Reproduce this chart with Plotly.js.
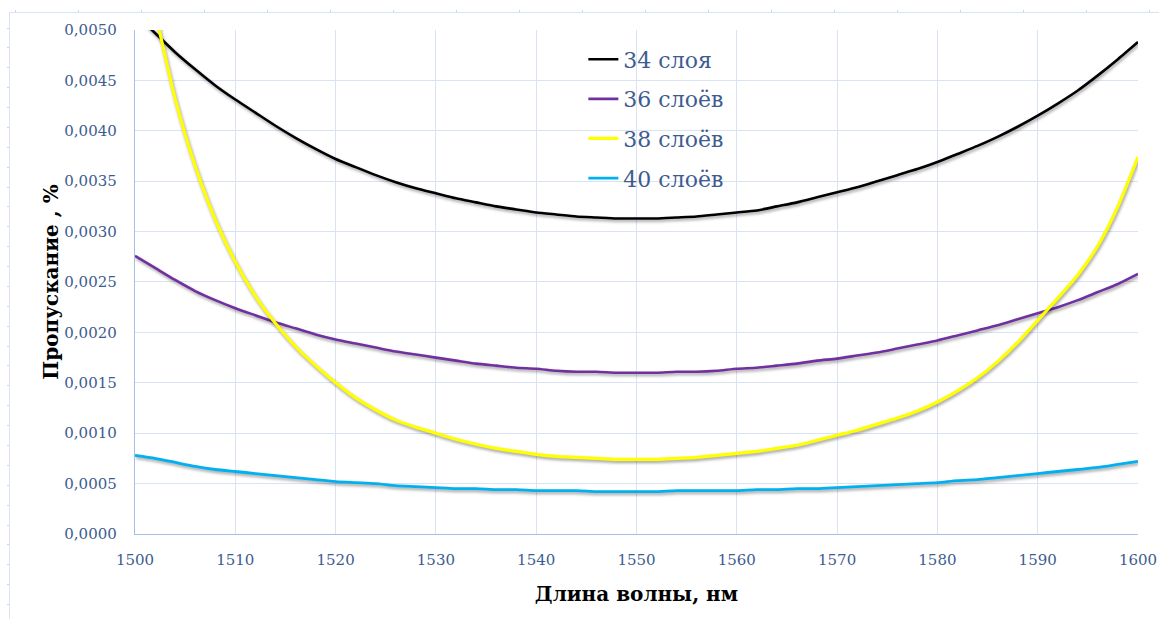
<!DOCTYPE html>
<html>
<head>
<meta charset="utf-8">
<script src="https://cdn.plot.ly/plotly-3.0.1.min.js"></script>
<style>
  html, body { margin: 0; padding: 0; background: #ffffff; }
  #chart { width: 1159px; height: 619px; }
</style>
</head>
<body>
<div id="chart"></div>
<script>
// Wavelength grid, nm
const wavelength = [
  1500,1502,1504,1506,1508,1510,1512,1514,1516,1518,
  1520,1522,1524,1526,1528,1530,1532,1534,1536,1538,
  1540,1542,1544,1546,1548,1550,1552,1554,1556,1558,
  1560,1562,1564,1566,1568,1570,1572,1574,1576,1578,
  1580,1582,1584,1586,1588,1590,1592,1594,1596,1598,1600
];

// Transmission, % — 34 layers
const layers34 = [
  0.00516,0.00497,0.00478,0.00461,0.00445,0.00431,0.00418,0.00405,0.00393,0.00382,
  0.00372,0.00364,0.00356,0.00349,0.00343,0.00338,0.00333,0.00329,0.00325,0.00322,
  0.00319,0.00317,0.00315,0.00314,0.00313,0.00313,0.00313,0.00314,0.00315,0.00317,
  0.00319,0.00321,0.00325,0.00329,0.00334,0.00339,0.00344,0.00350,0.00356,0.00362,
  0.00369,0.00377,0.00385,0.00394,0.00404,0.00415,0.00427,0.00440,0.00455,0.00471,0.00488
];

// Transmission, % — 36 layers
const layers36 = [
  0.00276,0.00264,0.00252,0.00241,0.00232,0.00224,0.00217,0.00210,0.00204,0.00198,
  0.00193,0.00189,0.00185,0.00181,0.00178,0.00175,0.00172,0.00169,0.00167,0.00165,
  0.00164,0.00162,0.00161,0.00161,0.00160,0.00160,0.00160,0.00161,0.00161,0.00162,
  0.00164,0.00165,0.00167,0.00169,0.00172,0.00174,0.00177,0.00180,0.00184,0.00188,
  0.00192,0.00197,0.00202,0.00207,0.00213,0.00219,0.00225,0.00232,0.00240,0.00248,0.00258
];

// Transmission, % — 38 layers
const layers38 = [
  0.00600,0.00518,0.00432,0.00365,0.00312,0.00270,0.00236,0.00209,0.00186,0.00167,
  0.00150,0.00135,0.00123,0.00113,0.00106,0.00100,0.00094,0.00089,0.00085,0.00082,
  0.00079,0.00077,0.00076,0.00075,0.00074,0.00074,0.00074,0.00075,0.00076,0.00078,
  0.00080,0.00082,0.00085,0.00088,0.00093,0.00098,0.00103,0.00109,0.00115,0.00122,
  0.00131,0.00142,0.00155,0.00171,0.00190,0.00212,0.00234,0.00257,0.00286,0.00325,0.00374
];

// Transmission, % — 40 layers
const layers40 = [
  0.00078,0.00075,0.00071,0.00067,0.00064,0.00062,0.00060,0.00058,0.00056,0.00054,
  0.00052,0.00051,0.00050,0.00048,0.00047,0.00046,0.00045,0.00045,0.00044,0.00044,
  0.00043,0.00043,0.00043,0.00042,0.00042,0.00042,0.00042,0.00043,0.00043,0.00043,
  0.00043,0.00044,0.00044,0.00045,0.00045,0.00046,0.00047,0.00048,0.00049,0.00050,
  0.00051,0.00053,0.00054,0.00056,0.00058,0.00060,0.00062,0.00064,0.00066,0.00069,0.00072
];

const seriesNames = ['34 слоя', '36 слоёв', '38 слоёв', '40 слоёв'];
const seriesData = [layers34, layers36, layers38, layers40];
const seriesColors = ['#000000', '#7030A0', '#FFFF00', '#00B0F0'];
const seriesWidths = [2.6, 2.6, 3.2, 2.8];

const SERIF = '"DejaVu Serif", "Liberation Serif", serif';
const LABEL_COLOR = '#3E5C8F';
const GRID = '#DAE3F3';

const traces = seriesData.map((ys, i) => ({
  type: 'scatter',
  mode: 'lines',
  x: wavelength,
  y: ys,
  name: seriesNames[i],
  legendgroup: 'g' + i,
  line: { color: seriesColors[i], width: seriesWidths[i], shape: 'spline', smoothing: 0.6 },
  hoverinfo: 'x+y+name'
}));

// empty trace that carries the outer frame axes
traces.push({
  type: 'scatter', mode: 'lines', x: [], y: [],
  xaxis: 'x2', yaxis: 'y2', showlegend: false, hoverinfo: 'skip'
});

const layout = {
  width: 1159,
  height: 619,
  margin: { l: 10, r: 0, t: 13, b: 0 },
  paper_bgcolor: '#ffffff',
  plot_bgcolor: 'rgba(0,0,0,0)',
  separators: ', ',
  font: { family: SERIF, color: LABEL_COLOR, size: 15 },
  showlegend: true,
  legend: {
    x: 0.499, y: 0.958, xanchor: 'left', yanchor: 'top',
    bgcolor: 'rgba(0,0,0,0)',
    font: { family: SERIF, size: 22, color: LABEL_COLOR },
    tracegroupgap: 8,
    itemwidth: 30
  },
  xaxis: {
    domain: [0.10879, 0.98172],
    range: [1500, 1600],
    dtick: 10,
    tick0: 1500,
    showgrid: true,
    gridcolor: GRID,
    gridwidth: 1,
    zeroline: false,
    showline: true,
    linecolor: '#A4BFE8',
    linewidth: 1.2,
    ticks: 'outside',
    ticklen: 12,
    tickcolor: 'rgba(0,0,0,0)',
    tickfont: { family: SERIF, size: 15, color: LABEL_COLOR },
    title: {
      text: 'Длина волны, нм',
      font: { family: SERIF, size: 20, color: '#000000', weight: 'bold' },
      standoff: 18
    },
    anchor: 'y'
  },
  yaxis: {
    domain: [0.14026, 0.97195],
    range: [0, 0.005],
    dtick: 0.0005,
    tick0: 0,
    tickformat: '.4f',
    showgrid: true,
    gridcolor: GRID,
    gridwidth: 1,
    zeroline: false,
    showline: true,
    linecolor: '#A4BFE8',
    linewidth: 1.2,
    ticks: 'outside',
    ticklen: 14,
    tickcolor: 'rgba(0,0,0,0)',
    tickfont: { family: SERIF, size: 15, color: LABEL_COLOR },
    title: {
      text: 'Пропускание , %',
      font: { family: SERIF, size: 20, color: '#000000', weight: 'bold' },
      standoff: 0
    },
    anchor: 'x'
  },
  // outer frame with small ticks along the top and left edges
  xaxis2: {
    domain: [0, 1],
    anchor: 'y2',
    side: 'top',
    range: [-0.0794, 18.158],
    dtick: 1,
    tick0: 0,
    showgrid: false,
    zeroline: false,
    showline: true,
    linecolor: GRID,
    linewidth: 1.5,
    ticks: 'outside',
    ticklen: 2,
    tickcolor: '#C9D5EA',
    showticklabels: false,
    fixedrange: true
  },
  yaxis2: {
    domain: [0, 1],
    anchor: 'x2',
    side: 'left',
    range: [0.2715, 30.7545],
    dtick: 1,
    tick0: 0,
    showgrid: false,
    zeroline: false,
    showline: true,
    linecolor: GRID,
    linewidth: 1.5,
    ticks: 'outside',
    ticklen: 2,
    tickcolor: '#C9D5EA',
    showticklabels: false,
    fixedrange: true
  }
};

Plotly.newPlot('chart', traces, layout, { displayModeBar: false, staticPlot: true }).then(() => {
  // soft drop shadow under the curves
  document.querySelectorAll('#chart .scatterlayer .trace path.js-line').forEach(p => {
    p.style.filter = 'drop-shadow(1.5px 2px 1.4px rgba(0,0,0,0.38))';
  });
});
</script>
</body>
</html>
